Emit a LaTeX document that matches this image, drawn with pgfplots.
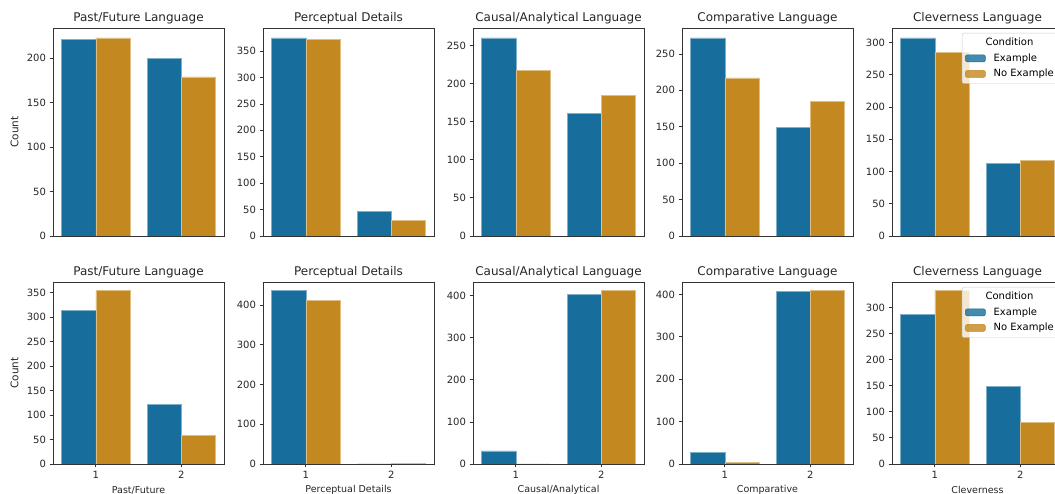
\documentclass[border=0pt]{standalone}
\usepackage{pgfplots}
\pgfplotsset{compat=1.18}
\usepackage{fontspec}
\setmainfont{DejaVu Sans}
\definecolor{cblue}{RGB}{23,109,156}
\definecolor{corange}{RGB}{195,136,32}
\newcommand{\xl}[1]{\fontsize{9.5}{11}\selectfont #1}
\pgfplotsset{
  panel/.style={
    scale only axis, width=171pt, anchor=south west,
    ymin=0, xmin=0.5, xmax=2.5, enlargelimits=false,
    axis line style={black!80, line width=0.8pt},
    every tick/.style={black!80, line width=0.8pt},
    tick align=outside, major tick length=3.5pt,
    xtick pos=bottom, ytick pos=left,
    ticklabel style={font=\fontsize{10}{12}\selectfont, text=black!85},
    /pgf/number format/assume math mode=true,
    scaled y ticks=false,
    title style={font=\fontsize{12}{14}\selectfont, text=black!85, at={(0.5,1)}, anchor=base, yshift=0.5pt},
    legend style={at={(1,1)}, anchor=north east, xshift=-4pt, yshift=-5pt,
      fill=white, fill opacity=0.8, text opacity=1, draw=black!20,
      rounded corners=2pt, font=\fontsize{10}{12}\selectfont, cells={anchor=west},
      row sep=2.5pt, inner ysep=3pt},
  },
  top/.style={panel, height=208pt, xtick=\empty},
  bot/.style={panel, height=182pt, xtick={1,2},
    xlabel style={text=black!85, at={(axis description cs:0.5,-0.143)}, anchor=center}},
  cnt/.style={ylabel={\fontsize{10.5}{12}\selectfont Count},
    ylabel style={text=black!85, at={(axis description cs:-0.225,0.5)}, anchor=center}},
  ex/.style={ybar, bar width=0.4, bar shift=-0.2, fill=cblue, draw=cblue!55!white, line width=0.5pt,
    legend image code/.code={\fill[cblue] (0pt,-3.5pt) rectangle (20pt,3.5pt); \path (26pt,0pt);}},
  nx/.style={ybar, bar width=0.4, bar shift=0.2, fill=corange, draw=corange!55!white, line width=0.5pt,
    legend image code/.code={\fill[corange] (0pt,-3.5pt) rectangle (20pt,3.5pt); \path (26pt,0pt);}},
}
\begin{document}
\begin{tikzpicture}
\useasboundingbox (0,0) rectangle (1055pt,494pt);
\clip (0,0) rectangle (1055pt,494pt);
% ---------- Row 1 ----------
\begin{axis}[top, cnt, at={(53pt,258pt)}, ymax=234.15, ytick={0,50,...,200},
  title={Past/Future Language}]
\addplot[ex] coordinates {(1,221) (2,200)};
\addplot[nx] coordinates {(1,223) (2,179)};
\end{axis}
\begin{axis}[top, at={(263pt,258pt)}, ymax=393.75, ytick={0,50,...,350},
  title={Perceptual Details}]
\addplot[ex] coordinates {(1,375) (2,46)};
\addplot[nx] coordinates {(1,372) (2,30)};
\end{axis}
\begin{axis}[top, at={(473pt,258pt)}, ymax=273, ytick={0,50,...,250},
  title={Causal/Analytical Language}]
\addplot[ex] coordinates {(1,260) (2,161)};
\addplot[nx] coordinates {(1,217) (2,185)};
\end{axis}
\begin{axis}[top, at={(682pt,258pt)}, ymax=285.6, ytick={0,50,...,250},
  title={Comparative Language}]
\addplot[ex] coordinates {(1,272) (2,149)};
\addplot[nx] coordinates {(1,217) (2,185)};
\end{axis}
\begin{axis}[top, at={(892pt,258pt)}, ymax=322.35, ytick={0,50,...,300},
  title={Cleverness Language}]
\addlegendimage{empty legend}\addlegendentry{\hspace*{-8pt}Condition}
\addplot[ex] coordinates {(1,307) (2,113)};\addlegendentry{Example}
\addplot[nx] coordinates {(1,284) (2,117)};\addlegendentry{No Example}
\end{axis}
% ---------- Row 2 ----------
\begin{axis}[bot, cnt, at={(53pt,30pt)}, ymax=371.7, ytick={0,50,...,350},
  title={Past/Future Language}, xlabel={\xl{Past/Future}}]
\addplot[ex] coordinates {(1,314) (2,121)};
\addplot[nx] coordinates {(1,354) (2,59)};
\end{axis}
\begin{axis}[bot, at={(263pt,30pt)}, ymax=457.8, ytick={0,100,...,400},
  title={Perceptual Details}, xlabel={\xl{Perceptual Details}}]
\addplot[ex] coordinates {(1,436) (2,0)};
\addplot[nx] coordinates {(1,411) (2,2)};
\end{axis}
\begin{axis}[bot, at={(473pt,30pt)}, ymax=432.6, ytick={0,100,...,400},
  title={Causal/Analytical Language}, xlabel={\xl{Causal/Analytical}}]
\addplot[ex] coordinates {(1,31) (2,404)};
\addplot[nx] coordinates {(1,0) (2,412)};
\end{axis}
\begin{axis}[bot, at={(682pt,30pt)}, ymax=429.45, ytick={0,100,...,400},
  title={Comparative Language}, xlabel={\xl{Comparative}}]
\addplot[ex] coordinates {(1,28) (2,407)};
\addplot[nx] coordinates {(1,3) (2,409)};
\end{axis}
\begin{axis}[bot, at={(892pt,30pt)}, ymax=348.6, ytick={0,50,...,300},
  title={Cleverness Language}, xlabel={\xl{Cleverness}}]
\addlegendimage{empty legend}\addlegendentry{\hspace*{-8pt}Condition}
\addplot[ex] coordinates {(1,287) (2,149)};\addlegendentry{Example}
\addplot[nx] coordinates {(1,332) (2,80)};\addlegendentry{No Example}
\end{axis}
\end{tikzpicture}
\end{document}
